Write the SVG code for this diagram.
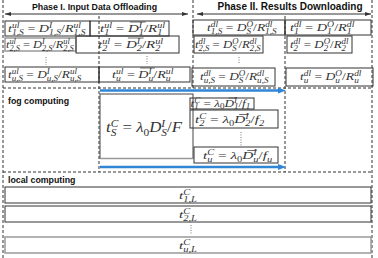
<svg xmlns="http://www.w3.org/2000/svg" width="378" height="258" viewBox="0 0 378 258">
<style>
.hd{font-family:"Liberation Sans",Arial,sans-serif;font-weight:bold;fill:#111;text-anchor:middle}
.lb{font-family:"Liberation Sans",Arial,sans-serif;font-weight:bold;font-size:8.8px;fill:#111}
.m{font-family:"Liberation Serif","DejaVu Serif",serif;font-style:italic;font-size:11px;fill:#333}
.s{font-size:7.5px}
.n{font-style:normal}
.big{font-size:14px}
.bs{font-size:9.5px}
.bx{fill:none;stroke:#333;stroke-width:1}
.gb{fill:none;stroke:#999;stroke-width:1.5}
.dash{stroke:#333;stroke-width:1;stroke-dasharray:3 2;fill:none}
.dots{stroke:#555;stroke-width:0.9;stroke-dasharray:0.9 1.6}
.ov{stroke:#333;stroke-width:0.6}
.ha{stroke:#333;stroke-width:1;marker-start:url(#ah);marker-end:url(#ah)}
.blue{stroke:#2e86d4;stroke-width:2.5}
.bh{fill:#2e86d4}
</style>
<defs>
<marker id="ah" viewBox="0 0 6 4" refX="6" refY="2" markerWidth="6" markerHeight="4" markerUnits="userSpaceOnUse" orient="auto-start-reverse">
<path d="M0,0 L6,2 L0,4 z" fill="#333"/>
</marker>
</defs>

<g id="frame">
<line class="dash" x1="3" y1="0" x2="3" y2="258"/>
<line class="dash" x1="372" y1="0" x2="372" y2="258"/>
<line class="dash" x1="99" y1="16" x2="99" y2="172"/>
<line class="dash" x1="193" y1="0" x2="193" y2="88"/>
<line class="dash" x1="285" y1="16" x2="285" y2="172"/>
<line class="dash" x1="3" y1="88" x2="372" y2="88"/>
<line class="dash" x1="3" y1="172" x2="372" y2="172"/>
</g>

<g id="phase1-header">
<text class="hd" x="94.5" y="10" font-size="8.8">Phase I. Input Data Offloading</text>
<line class="ha" x1="5" y1="14" x2="188" y2="14"/>
</g>
<g id="phase2-header">
<text class="hd" x="290" y="10" font-size="10">Phase II. Results Downloading</text>
<line class="ha" x1="197" y1="14" x2="371" y2="14"/>
</g>

<g id="ul-1S">
<rect class="bx" x="5" y="21" width="85" height="15"/>
<text class="m" transform="translate(8 32) scale(1.28 1)">t<tspan class="s" dy="-4">ul</tspan><tspan class="s" dx="-5.84" dy="6.5">1,S</tspan><tspan class="n" dy="-2.5"> = </tspan>D<tspan class="s" dy="-4">I</tspan><tspan class="s" dx="-2.5" dy="6.5">1,S</tspan><tspan class="n" dy="-2.5">/</tspan>R<tspan class="s" dy="-4">ul</tspan><tspan class="s" dx="-5.84" dy="6.5">1,S</tspan></text>
</g>
<g id="ul-1">
<rect class="bx" x="90" y="21" width="79" height="15"/>
<g transform="translate(100 32) scale(1.36 1)">
<text class="m">t<tspan class="s" dy="-4">ul</tspan><tspan class="s" dx="-5.84" dy="6.5">1</tspan><tspan class="n" dx="2.09" dy="-2.5"> = </tspan>D<tspan class="s" dy="-4">I</tspan><tspan class="s" dx="-2.5" dy="6.5">1</tspan><tspan class="n" dy="-2.5">/</tspan>R<tspan class="s" dy="-4">ul</tspan><tspan class="s" dx="-5.84" dy="6.5">1</tspan></text>
<line class="ov" x1="22" y1="-10" x2="33.6" y2="-10"/>
</g>
</g>
<g id="ul-2S">
<rect class="gb" x="5" y="38" width="71" height="13"/>
<text class="m" transform="translate(6 48) scale(1.12 1)">t<tspan class="s" dy="-4">ul</tspan><tspan class="s" dx="-5.84" dy="6.5">2,S</tspan><tspan class="n" dy="-2.5"> = </tspan>D<tspan class="s" dy="-4">I</tspan><tspan class="s" dx="-2.5" dy="6.5">2,S</tspan><tspan class="n" dy="-2.5">/</tspan>R<tspan class="s" dy="-4">ul</tspan><tspan class="s" dx="-5.84" dy="6.5">2,S</tspan></text>
</g>
<g id="ul-2">
<rect class="bx" x="76" y="36" width="103" height="17"/>
<g transform="translate(98 48) scale(1.36 1)">
<text class="m">t<tspan class="s" dy="-4">ul</tspan><tspan class="s" dx="-5.84" dy="6.5">2</tspan><tspan class="n" dx="2.09" dy="-2.5"> = </tspan>D<tspan class="s" dy="-4">I</tspan><tspan class="s" dx="-2.5" dy="6.5">2</tspan><tspan class="n" dy="-2.5">/</tspan>R<tspan class="s" dy="-4">ul</tspan><tspan class="s" dx="-5.84" dy="6.5">2</tspan></text>
<line class="ov" x1="22" y1="-10" x2="33.6" y2="-10"/>
</g>
</g>
<g id="ul-dots">
<line class="dots" x1="46" y1="57" x2="46" y2="65"/>
<line class="dots" x1="147" y1="56" x2="147" y2="64"/>
</g>
<g id="ul-uS">
<rect class="bx" x="5" y="67" width="94" height="15"/>
<text class="m" transform="translate(8 78) scale(1.21 1)">t<tspan class="s" dy="-4">ul</tspan><tspan class="s" dx="-5.84" dy="6.5">u,S</tspan><tspan class="n" dy="-2.5"> = </tspan>D<tspan class="s" dy="-4">I</tspan><tspan class="s" dx="-2.5" dy="6.5">u,S</tspan><tspan class="n" dy="-2.5">/</tspan>R<tspan class="s" dy="-4">ul</tspan><tspan class="s" dx="-5.84" dy="6.5">u,S</tspan></text>
</g>
<g id="ul-u">
<rect class="bx" x="99" y="67" width="91" height="15"/>
<g transform="translate(112 78) scale(1.28 1)">
<text class="m">t<tspan class="s" dy="-4">ul</tspan><tspan class="s" dx="-5.84" dy="6.5">u</tspan><tspan class="n" dx="2.09" dy="-2.5"> = </tspan>D<tspan class="s" dy="-4">I</tspan><tspan class="s" dx="-2.5" dy="6.5">u</tspan><tspan class="n" dy="-2.5">/</tspan>R<tspan class="s" dy="-4">ul</tspan><tspan class="s" dx="-5.84" dy="6.5">u</tspan></text>
<line class="ov" x1="22" y1="-10" x2="33.6" y2="-10"/>
</g>
</g>

<g id="dl-1S">
<rect class="bx" x="193" y="20" width="92" height="15"/>
<text class="m" transform="translate(207 31) scale(1.23 1)">t<tspan class="s" dy="-4">dl</tspan><tspan class="s" dx="-5.84" dy="6.5">1,S</tspan><tspan class="n" dy="-2.5"> = </tspan>D<tspan class="s" dy="-4">O</tspan><tspan class="s" dx="-5.42" dy="6.5">S</tspan><tspan class="n" dx="1.67" dy="-2.5">/</tspan>R<tspan class="s" dy="-4">dl</tspan><tspan class="s" dx="-5.84" dy="6.5">1,S</tspan></text>
</g>
<g id="dl-1">
<rect class="bx" x="285" y="20" width="86" height="15"/>
<text class="m" transform="translate(290 31) scale(1.3 1)">t<tspan class="s" dy="-4">dl</tspan><tspan class="s" dx="-5.84" dy="6.5">1</tspan><tspan class="n" dx="2.09" dy="-2.5"> = </tspan>D<tspan class="s" dy="-4">O</tspan><tspan class="s" dx="-5.42" dy="6.5">1</tspan><tspan class="n" dx="1.67" dy="-2.5">/</tspan>R<tspan class="s" dy="-4">dl</tspan><tspan class="s" dx="-5.84" dy="6.5">1</tspan></text>
</g>
<g id="dl-2S">
<rect class="bx" x="194" y="36" width="69" height="17"/>
<text class="m" transform="translate(195 48) scale(1.16 1)">t<tspan class="s" dy="-4">dl</tspan><tspan class="s" dx="-5.84" dy="6.5">2,S</tspan><tspan class="n" dy="-2.5"> = </tspan>D<tspan class="s" dy="-4">O</tspan><tspan class="s" dx="-5.42" dy="6.5">S</tspan><tspan class="n" dx="1.67" dy="-2.5">/</tspan>R<tspan class="s" dy="-4">dl</tspan><tspan class="s" dx="-5.84" dy="6.5">2,S</tspan></text>
</g>
<g id="dl-2">
<rect class="bx" x="287" y="36" width="65" height="17"/>
<text class="m" transform="translate(290 48) scale(1.18 1)">t<tspan class="s" dy="-4">dl</tspan><tspan class="s" dx="-5.84" dy="6.5">2</tspan><tspan class="n" dx="2.09" dy="-2.5"> = </tspan>D<tspan class="s" dy="-4">O</tspan><tspan class="s" dx="-5.42" dy="6.5">2</tspan><tspan class="n" dx="1.67" dy="-2.5">/</tspan>R<tspan class="s" dy="-4">dl</tspan><tspan class="s" dx="-5.84" dy="6.5">2</tspan></text>
</g>
<g id="dl-dots">
<line class="dots" x1="239" y1="57" x2="239" y2="64"/>
</g>
<g id="dl-uS">
<rect class="bx" x="192" y="68" width="83" height="18"/>
<text class="m" transform="translate(200 80) scale(1.21 1)">t<tspan class="s" dy="-4">dl</tspan><tspan class="s" dx="-5.84" dy="6.5">u,S</tspan><tspan class="n" dy="-2.5"> = </tspan>D<tspan class="s" dy="-4">O</tspan><tspan class="s" dx="-5.42" dy="6.5">S</tspan><tspan class="n" dx="1.67" dy="-2.5">/</tspan>R<tspan class="s" dy="-4">dl</tspan><tspan class="s" dx="-5.84" dy="6.5">u,S</tspan></text>
</g>
<g id="dl-u">
<rect class="bx" x="286" y="68" width="87" height="18"/>
<text class="m" transform="translate(300 80) scale(1.24 1)">t<tspan class="s" dy="-4">dl</tspan><tspan class="s" dx="-5.84" dy="6.5">u</tspan><tspan class="n" dx="2.09" dy="-2.5"> = </tspan>D<tspan class="s" dy="-4">O</tspan><tspan class="s" dx="-5.42" dy="6.5">u</tspan><tspan class="n" dx="1.67" dy="-2.5">/</tspan>R<tspan class="s" dy="-4">dl</tspan><tspan class="s" dx="-5.84" dy="6.5">u</tspan></text>
</g>

<g id="fog-label">
<text class="lb" x="8" y="104">fog computing</text>
</g>
<g id="fog-arrows">
<line class="blue" x1="100" y1="90.5" x2="279" y2="90.5"/>
<polygon class="bh" points="278,87.5 286,90.5 278,93.5"/>
<line class="blue" x1="100" y1="167" x2="279" y2="167"/>
<polygon class="bh" points="278,164 286,167 278,170"/>
</g>
<g id="fog-shared">
<rect x="100" y="94" width="93" height="64.5" fill="none" stroke="#444" stroke-width="1"/>
<line x1="100" y1="158.5" x2="193" y2="158.5" stroke="#999" stroke-width="1.5"/>
<text class="m big" transform="translate(106 132) scale(1.2 1)">t<tspan class="bs" dy="-5">C</tspan><tspan class="bs" dx="-6.34" dy="8.5">S</tspan><tspan class="n" dx="1.59" dy="-3.5"> = </tspan>λ<tspan class="bs n" dy="3.5">0</tspan><tspan dy="-3.5">D</tspan><tspan class="bs" dy="-5">I</tspan><tspan class="bs" dx="-3.16" dy="8.5">S</tspan><tspan class="n" dy="-3.5">/</tspan>F</text>
</g>
<g id="fog-1">
<rect class="bx" x="190" y="98" width="64" height="11"/>
<g transform="translate(190.5 106.5) scale(1.2 1)">
<text class="m">t<tspan class="s" dy="-4">C</tspan><tspan class="s" dx="-5" dy="6.5">1</tspan><tspan class="n" dx="1.25" dy="-2.5"> = </tspan>λ<tspan class="s n" dy="2.5">0</tspan><tspan dy="-2.5">D</tspan><tspan class="s" dy="-4">I</tspan><tspan class="s" dx="-2.5" dy="6.5">1</tspan><tspan class="n" dy="-2.5">/</tspan>f<tspan class="s" dy="2.5">1</tspan></text>
<line class="ov" x1="31.8" y1="-8.5" x2="38.6" y2="-8.5"/>
</g>
</g>
<g id="fog-2">
<rect class="bx" x="190" y="110" width="88" height="18"/>
<g transform="translate(195 123) scale(1.39 1)">
<text class="m">t<tspan class="s" dy="-4">C</tspan><tspan class="s" dx="-5" dy="6.5">2</tspan><tspan class="n" dx="1.25" dy="-2.5"> = </tspan>λ<tspan class="s n" dy="2.5">0</tspan><tspan dy="-2.5">D</tspan><tspan class="s" dy="-4">I</tspan><tspan class="s" dx="-2.5" dy="6.5">2</tspan><tspan class="n" dy="-2.5">/</tspan>f<tspan class="s" dy="2.5">2</tspan></text>
<line class="ov" x1="31.8" y1="-8.5" x2="38.6" y2="-8.5"/>
</g>
</g>
<g id="fog-dots">
<line class="dots" x1="241" y1="132" x2="241" y2="146"/>
</g>
<g id="fog-u">
<rect class="bx" x="194" y="147" width="84" height="16"/>
<g transform="translate(203 159) scale(1.39 1)">
<text class="m">t<tspan class="s" dy="-4">C</tspan><tspan class="s" dx="-5" dy="6.5">u</tspan><tspan class="n" dx="1.25" dy="-2.5"> = </tspan>λ<tspan class="s n" dy="2.5">0</tspan><tspan dy="-2.5">D</tspan><tspan class="s" dy="-4">I</tspan><tspan class="s" dx="-2.5" dy="6.5">u</tspan><tspan class="n" dy="-2.5">/</tspan>f<tspan class="s" dy="2.5">u</tspan></text>
<line class="ov" x1="31.8" y1="-8.5" x2="38.6" y2="-8.5"/>
</g>
</g>

<g id="local-label">
<text class="lb" x="8" y="183">local computing</text>
</g>
<g id="local-1">
<rect class="bx" x="5" y="187" width="366" height="16"/>
<text class="m" transform="translate(179 199) scale(1.4 1)">t<tspan class="s" dy="-4">C</tspan><tspan class="s" dx="-5" dy="6.5">1,L</tspan></text>
</g>
<g id="local-2">
<rect class="bx" x="5" y="206" width="366" height="16"/>
<text class="m" transform="translate(179 218) scale(1.4 1)">t<tspan class="s" dy="-4">C</tspan><tspan class="s" dx="-5" dy="6.5">2,L</tspan></text>
</g>
<g id="local-dots">
<line class="dots" x1="191" y1="225" x2="191" y2="235"/>
</g>
<g id="local-u">
<rect class="gb" x="5" y="237" width="366" height="16"/>
<text class="m" transform="translate(179 249) scale(1.4 1)">t<tspan class="s" dy="-4">C</tspan><tspan class="s" dx="-5" dy="6.5">u,L</tspan></text>
</g>
</svg>
